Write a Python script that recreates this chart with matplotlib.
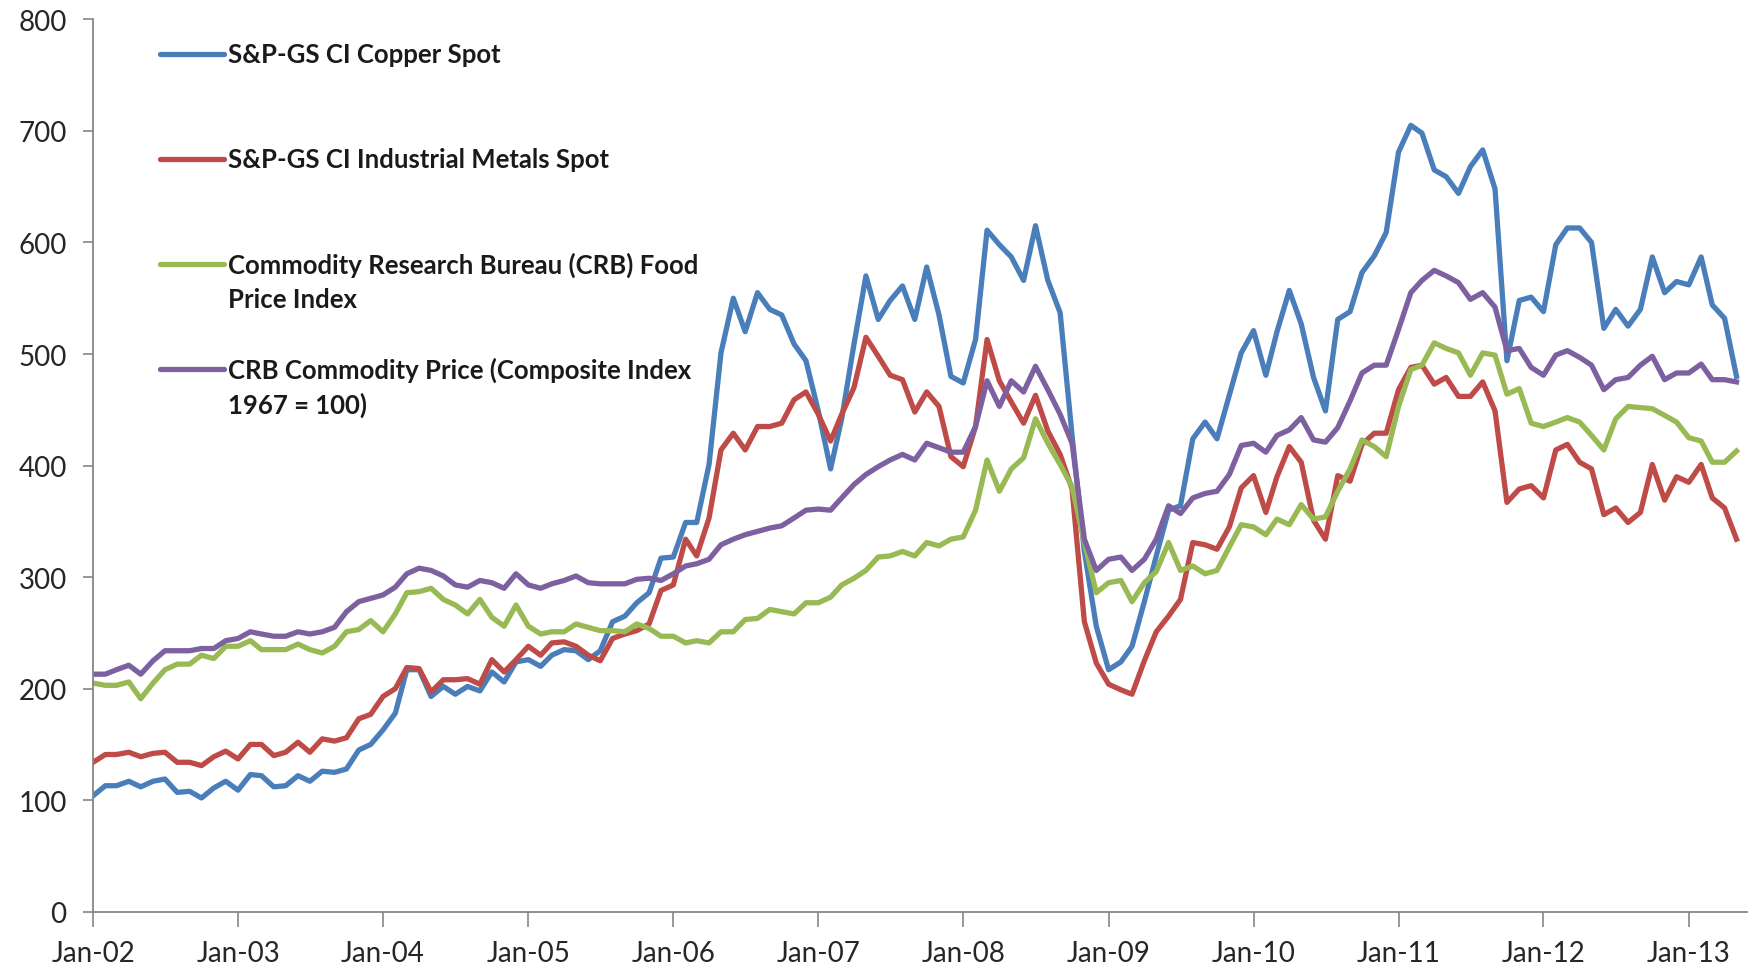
import matplotlib
matplotlib.use("Agg")
import matplotlib.pyplot as plt
import matplotlib.dates as mdates
import pandas as pd

# monthly values, Jan-2002 .. May-2013
copper = [
    104, 113, 113, 117, 112, 117, 119, 107, 108, 102, 111, 117,
    109, 123, 122, 112, 113, 122, 117, 126, 125, 128, 145, 150,
    163, 178, 217, 217, 193, 202, 195, 202, 198, 215, 206, 224,
    226, 220, 230, 235, 234, 226, 234, 260, 265, 277, 286, 317,
    318, 349, 349, 401, 501, 550, 520, 555, 540, 535, 509, 494,
    449, 397, 442, 509, 570, 531, 548, 561, 531, 578, 535, 480,
    474, 513, 611, 598, 587, 566, 615, 566, 537, 427, 323, 256,
    217, 224, 238, 278, 319, 360, 364, 424, 439, 424, 463, 501,
    521, 481, 520, 557, 527, 479, 449, 531, 538, 573, 588, 609,
    681, 705, 698, 665, 659, 644, 668, 683, 648, 494, 548, 551,
    538, 598, 613, 613, 600, 523, 540, 525, 540, 587, 555, 565,
    562, 587, 544, 532, 480,
]
metals = [
    134, 141, 141, 143, 139, 142, 143, 134, 134, 131, 139, 144,
    137, 150, 150, 140, 143, 152, 143, 155, 153, 156, 173, 177,
    193, 200, 219, 218, 197, 208, 208, 209, 204, 226, 215, 226,
    238, 230, 241, 242, 238, 230, 225, 245, 249, 252, 258, 288,
    293, 334, 319, 353, 414, 429, 414, 435, 435, 438, 459, 466,
    446, 422, 446, 470, 515, 498, 481, 477, 448, 466, 453, 408,
    399, 435, 513, 476, 457, 438, 463, 431, 410, 379, 260, 223,
    204, 199, 195, 225, 251, 265, 280, 331, 329, 325, 345, 380,
    391, 358, 390, 417, 403, 351, 334, 391, 386, 419, 429, 429,
    468, 488, 490, 473, 479, 462, 462, 475, 449, 367, 379, 382,
    371, 414, 419, 403, 397, 356, 362, 349, 358, 401, 369, 390,
    385, 401, 371, 362, 334,
]
food = [
    205, 203, 203, 206, 191, 205, 217, 222, 222, 230, 227, 238,
    238, 243, 235, 235, 235, 240, 235, 232, 238, 251, 253, 261,
    251, 267, 286, 287, 290, 280, 275, 267, 280, 264, 256, 275,
    256, 249, 251, 251, 258, 255, 252, 252, 251, 258, 254, 247,
    247, 241, 243, 241, 251, 251, 262, 263, 271, 269, 267, 277,
    277, 282, 293, 299, 306, 318, 319, 323, 319, 331, 328, 334,
    336, 360, 405, 377, 397, 407, 442, 420, 401, 381, 331, 286,
    295, 297, 278, 295, 305, 331, 306, 310, 303, 306, 327, 347,
    345, 338, 352, 347, 365, 352, 354, 377, 397, 423, 417, 408,
    453, 486, 490, 510, 505, 501, 481, 501, 499, 464, 469, 438,
    435, 439, 443, 439, 427, 414, 442, 453, 452, 451, 445, 439,
    425, 422, 403, 403, 413,
]
composite = [
    213, 213, 217, 221, 213, 225, 234, 234, 234, 236, 236, 243,
    245, 251, 249, 247, 247, 251, 249, 251, 255, 269, 278, 281,
    284, 291, 303, 308, 306, 301, 293, 291, 297, 295, 290, 303,
    293, 290, 294, 297, 301, 295, 294, 294, 294, 298, 299, 297,
    303, 310, 312, 316, 329, 334, 338, 341, 344, 346, 353, 360,
    361, 360, 371, 383, 392, 399, 405, 410, 405, 420, 416, 412,
    412, 435, 476, 453, 476, 466, 489, 468, 446, 420, 334, 306,
    316, 318, 306, 316, 334, 364, 357, 371, 375, 377, 392, 418,
    420, 412, 427, 432, 443, 423, 421, 434, 458, 483, 490, 490,
    522, 555, 566, 575, 570, 564, 549, 555, 542, 503, 505, 488,
    481, 499, 503, 497, 490, 468, 477, 479, 490, 498, 477, 483,
    483, 491, 477, 477, 475,
]

labels = [
    "S&P-GS CI Copper Spot",
    "S&P-GS CI Industrial Metals Spot",
    "Commodity Research Bureau (CRB) Food\nPrice Index",
    "CRB Commodity Price (Composite Index\n1967 = 100)",
]
colors = ["#4a7ebb", "#be4b48", "#98b954", "#7d60a0"]

dates = pd.date_range("2002-01-01", periods=len(copper), freq="MS")

plt.rcParams["font.family"] = ["Lato", "DejaVu Sans"]

fig = plt.figure(figsize=(17.56, 9.70), dpi=100)
ax = fig.add_axes([0.053, 0.059, 0.942, 0.920])

for series, color in zip([copper, metals, food, composite], colors):
    ax.plot(dates, series, color=color, linewidth=3.8, solid_joinstyle="round")

ax.set_ylim(0, 800)
ax.set_yticks(range(0, 801, 100))
ax.set_xlim(pd.Timestamp("2002-01-01"), pd.Timestamp("2013-05-28"))
ax.xaxis.set_major_locator(mdates.YearLocator(1, month=1, day=1))
ax.xaxis.set_major_formatter(mdates.DateFormatter("%b-%y"))

for side in ["top", "right"]:
    ax.spines[side].set_visible(False)
for side in ["left", "bottom"]:
    ax.spines[side].set_color("#868686")
    ax.spines[side].set_linewidth(1.3)
ax.tick_params(axis="y", length=7, width=1.2, color="#868686", pad=12,
               labelsize=20, labelcolor="#262626")
ax.tick_params(axis="x", length=11, width=1.2, color="#868686", pad=9,
               labelsize=20, labelcolor="#262626")

# legend drawn by hand, Excel style: handle sits on the first text line
legend_y = [0.961, 0.844, 0.7256, 0.608]
line_step = 0.039
for label, color, y in zip(labels, colors, legend_y):
    ax.plot([0.0405, 0.0792], [y, y], transform=ax.transAxes, color=color,
            linewidth=3.8, solid_capstyle="round", clip_on=False)
    for k, line in enumerate(label.split("\n")):
        ax.text(0.0815, y - k * line_step, line, transform=ax.transAxes,
                fontsize=18.5, fontweight="bold", color="#1a1a1a",
                ha="left", va="center")

fig.savefig("out.png", dpi=100)
